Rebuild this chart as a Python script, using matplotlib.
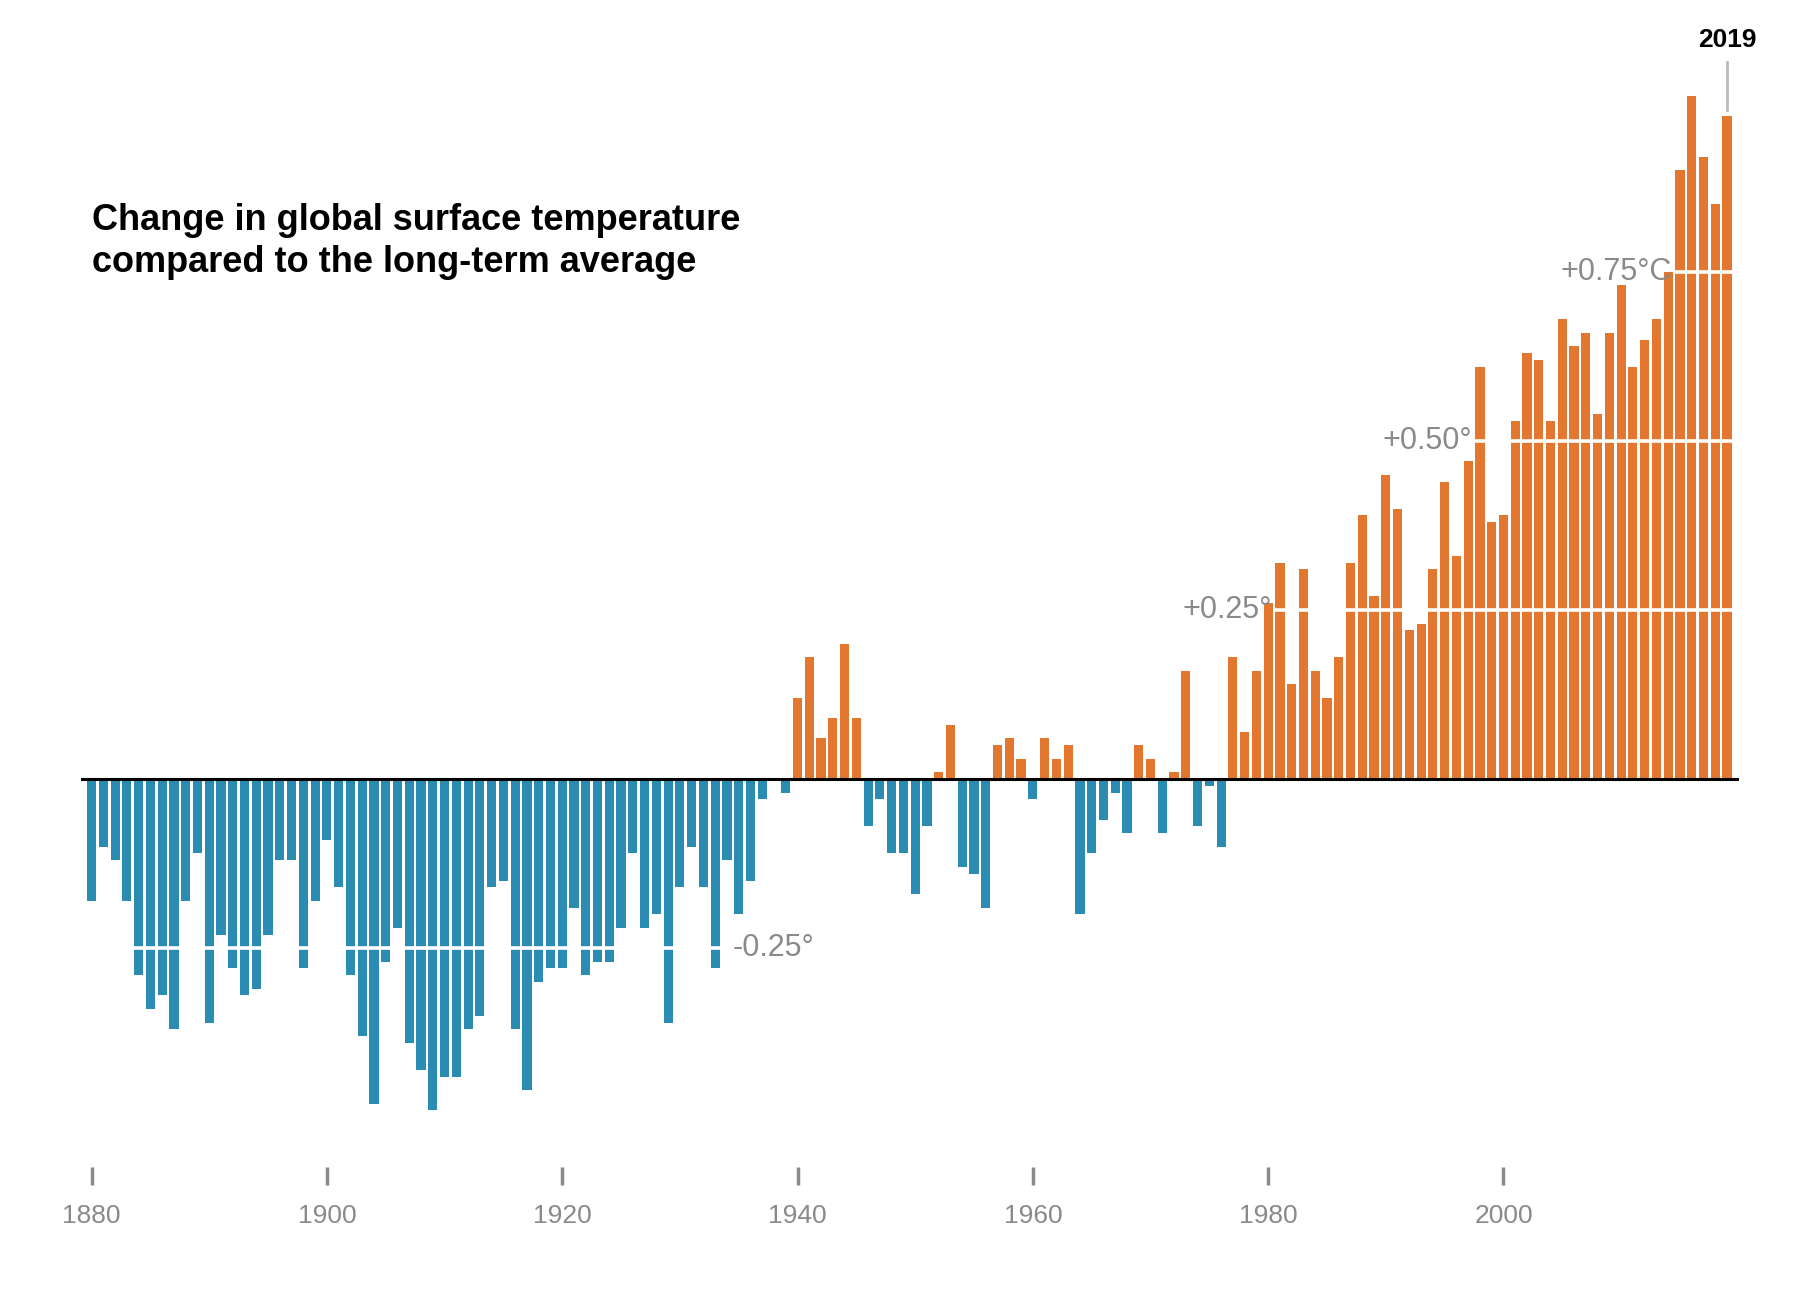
import matplotlib.pyplot as plt
import numpy as np

plt.rcParams['font.family'] = ['Liberation Sans', 'DejaVu Sans']

years = np.arange(1880, 2020)
anomaly = [
    -0.18, -0.10, -0.12, -0.18, -0.29, -0.34, -0.32, -0.37, -0.18, -0.11,
    -0.36, -0.23, -0.28, -0.32, -0.31, -0.23, -0.12, -0.12, -0.28, -0.18,
    -0.09, -0.16, -0.29, -0.38, -0.48, -0.27, -0.22, -0.39, -0.43, -0.49,
    -0.44, -0.44, -0.37, -0.35, -0.16, -0.15, -0.37, -0.46, -0.30, -0.28,
    -0.28, -0.19, -0.29, -0.27, -0.27, -0.22, -0.11, -0.22, -0.20, -0.36,
    -0.16, -0.10, -0.16, -0.28, -0.12, -0.20, -0.15, -0.03, 0.00, -0.02,
    0.12, 0.18, 0.06, 0.09, 0.20, 0.09, -0.07, -0.03, -0.11, -0.11,
    -0.17, -0.07, 0.01, 0.08, -0.13, -0.14, -0.19, 0.05, 0.06, 0.03,
    -0.03, 0.06, 0.03, 0.05, -0.20, -0.11, -0.06, -0.02, -0.08, 0.05,
    0.03, -0.08, 0.01, 0.16, -0.07, -0.01, -0.10, 0.18, 0.07, 0.16,
    0.26, 0.32, 0.14, 0.31, 0.16, 0.12, 0.18, 0.32, 0.39, 0.27,
    0.45, 0.40, 0.22, 0.23, 0.31, 0.44, 0.33, 0.47, 0.61, 0.38,
    0.39, 0.53, 0.63, 0.62, 0.53, 0.68, 0.64, 0.66, 0.54, 0.66,
    0.73, 0.61, 0.65, 0.68, 0.75, 0.90, 1.01, 0.92, 0.85, 0.98,
]
tick_years = [1880, 1900, 1920, 1940, 1960, 1980, 2000]

blue = '#2a8cb3'
orange = '#e4772f'
gray = '#8a8a8a'

fig = plt.figure(figsize=(18, 13.02), dpi=100)
ax = fig.add_axes([0.045, 0.09, 0.921, 0.857])

vals = np.array(anomaly)
colors = [orange if v > 0 else blue for v in vals]
ax.bar(years, vals, width=0.78, color=colors, zorder=2)
ax.axhline(0, color='black', lw=2.2, zorder=3)

# white reference lines cutting through the bars
ax.hlines(0.25, 1980.6, 2019.5, color='white', lw=2.6, zorder=4)
ax.hlines(0.50, 1997.6, 2019.5, color='white', lw=2.6, zorder=4)
ax.hlines(0.75, 2014.6, 2019.5, color='white', lw=2.6, zorder=4)
ax.hlines(-0.25, 1879.5, 1933.5, color='white', lw=2.6, zorder=4)

lab = dict(color=gray, fontsize=22, va='center', zorder=5)
ax.text(1980.3, 0.25, '+0.25°', ha='right', **lab)
ax.text(1997.3, 0.50, '+0.50°', ha='right', **lab)
ax.text(2014.3, 0.75, '+0.75°C', ha='right', **lab)
ax.text(1934.5, -0.25, '-0.25°', ha='left', **lab)

# 2019 callout
ax.plot([2019, 2019], [0.99, 1.06], color='#bbbbbb', lw=2, zorder=5, clip_on=False)
ax.text(2019, 1.075, '2019', ha='center', va='bottom', fontsize=19,
        fontweight='bold', color='black')

ax.text(1880, 0.795, 'Change in global surface temperature\ncompared to the long-term average',
        fontsize=26, fontweight='bold', va='center', ha='left', linespacing=1.25)

ax.set_xlim(1879.1, 2020.0)
ax.set_ylim(-0.60, 1.05)
ax.set_xticks(tick_years)
ax.set_xticklabels([str(y) for y in tick_years], color=gray, fontsize=19)
ax.tick_params(axis='x', direction='in', length=13, width=2.5, color=gray, pad=14)
ax.set_yticks([])
for s in ax.spines.values():
    s.set_visible(False)

fig.savefig('out.png', dpi=100)
